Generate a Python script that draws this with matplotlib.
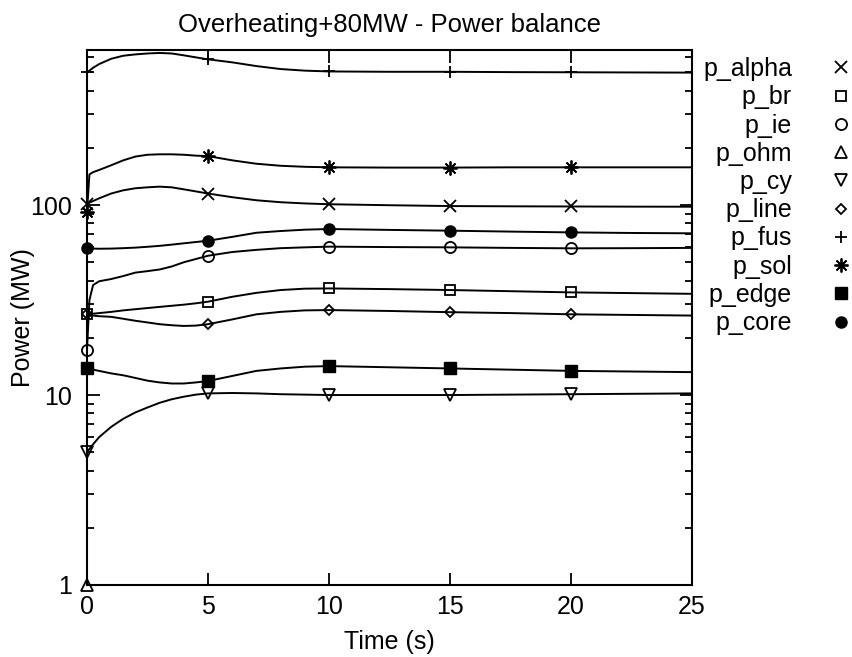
import matplotlib.pyplot as plt
from matplotlib.lines import Line2D
from matplotlib.ticker import NullLocator, NullFormatter

plt.rcParams['font.family'] = ['Liberation Sans', 'DejaVu Sans']
plt.rcParams['font.size'] = 18

# time grid (s) the curves were read at
time = [0, 0.1, 0.25, 0.5, 1, 1.5, 2, 2.5, 3, 3.5, 4, 4.5, 5,
        6, 7, 8, 9, 10, 12.5, 15, 17.5, 20, 22.5, 25]

# powers in MW
p_alpha = [101, 103, 105, 108.5, 115, 119.6, 122.6, 124, 125, 124, 121, 118, 115,
           110, 106, 103.5, 102, 101, 99.8, 98.8, 98.5, 98.3, 98.1, 98]
p_br = [26.6, 26.7, 26.8, 27.0, 27.4, 27.9, 28.3, 28.7, 29.1, 29.5, 29.9, 30.4, 31,
        32.9, 34.5, 35.7, 36.3, 36.4, 36.1, 35.7, 35.2, 34.7, 34.4, 34.1]
p_ie = [17.3, 31.6, 37.9, 39.7, 40.8, 42.3, 44.1, 44.9, 45.8, 47.5, 50, 52, 54.1,
        56.6, 58.1, 59.3, 59.9, 60.4, 60.1, 59.9, 59.5, 59.2, 59.3, 59.5]
p_ohm = [1.0, 0, 0, 0, 0, 0, 0, 0, 0, 0, 0, 0, 0,
         0, 0, 0, 0, 0, 0, 0, 0, 0, 0, 0]
p_cy = [5.03, 5.2, 5.5, 6.0, 6.8, 7.5, 8.1, 8.6, 9.1, 9.5, 9.8, 10.05, 10.2,
        10.25, 10.2, 10.1, 10.05, 10.0, 10.0, 10.0, 10.05, 10.1, 10.15, 10.2]
p_line = [26.6, 26.4, 26.2, 26.0, 25.8, 25.2, 24.6, 24.1, 23.6, 23.3, 23.1, 23.2, 23.6,
          25, 26.6, 27.4, 27.9, 28, 27.7, 27.3, 27.0, 26.6, 26.4, 26.2]
p_fus = [500, 510, 528, 552, 589, 611, 621, 628, 632, 628, 614, 599, 585,
         564, 539, 520, 510, 505, 503, 503, 501, 500, 499, 498]
p_sol = [92, 145, 149, 153, 162, 172, 180, 184, 185, 185, 184, 182, 181,
         172, 165, 161, 159, 158, 157.5, 157.5, 158, 158, 158, 158]
p_edge = [13.8, 13.7, 13.6, 13.4, 13.0, 12.7, 12.3, 11.9, 11.65, 11.5, 11.5, 11.65, 11.85,
          12.6, 13.4, 13.8, 14.1, 14.2, 14.0, 13.8, 13.6, 13.4, 13.3, 13.2]
p_core = [59.2, 59.1, 59, 58.9, 59, 59.3, 59.7, 60.3, 61, 61.9, 62.9, 63.9, 64.9,
          68, 71.5, 73, 74.2, 74.8, 74, 73.3, 72.5, 71.8, 71.3, 71]

marker_times = [0, 5, 10, 15, 20]

series = [
    ("p_alpha", p_alpha, dict(marker='x', ms=8, mew=1.3)),
    ("p_br", p_br, dict(marker='s', ms=7, mfc='none', mew=1.3)),
    ("p_ie", p_ie, dict(marker='o', ms=8, mfc='none', mew=1.3)),
    ("p_ohm", p_ohm, dict(marker='^', ms=8, mfc='none', mew=1.3)),
    ("p_cy", p_cy, dict(marker='v', ms=8, mfc='none', mew=1.3)),
    ("p_line", p_line, dict(marker='D', ms=5.5, mfc='none', mew=1.3)),
    ("p_fus", p_fus, dict(marker='+', ms=9, mew=1.3)),
    ("p_sol", p_sol, dict(marker=(8, 2, 0), ms=10, mew=1.3)),
    ("p_edge", p_edge, dict(marker='s', ms=8)),
    ("p_core", p_core, dict(marker='o', ms=8)),
]

mark_at = [time.index(t) for t in marker_times]

fig = plt.figure(figsize=(8.52, 6.57), dpi=100)
ax = fig.add_axes([87 / 852, 1 - 585 / 657, 605 / 852, 535 / 657])
ax.set_yscale('log', nonpositive='mask')

handles = []
for name, vals, style in series:
    ax.plot(time, vals, color='black', lw=1.4)
    ax.plot(time, vals, ls='none', color='black', markevery=mark_at, clip_on=False, **style)
    handles.append(Line2D([], [], ls='none', color='black', **style))

ax.set_xlim(0, 25)
ax.set_ylim(1, 655)
ax.set_xticks([0, 5, 10, 15, 20, 25])
ax.xaxis.set_minor_locator(NullLocator())
ax.set_yticks([1, 10, 100], ['1', '10', '100'])
ax.yaxis.set_minor_formatter(NullFormatter())
ax.tick_params(which='both', direction='in', top=True, right=True, width=1.3)
ax.tick_params(which='major', length=9, pad=7)
ax.tick_params(which='minor', length=5)
ax.tick_params(axis='y', pad=10.5)
for sp in ax.spines.values():
    sp.set_linewidth(1.5)

ax.set_title("Overheating+80MW - Power balance", fontsize=18.5, pad=13)
ax.set_xlabel("Time (s)", labelpad=8)
ax.set_ylabel("Power (MW)", labelpad=-3)

fig.legend(handles, [s[0] for s in series], loc='upper left',
           bbox_to_anchor=(703 / 852, 1 - 57 / 657), frameon=False,
           markerfirst=False, borderpad=0, borderaxespad=0,
           handlelength=2.3, handletextpad=0.8, labelspacing=0.17)

fig.savefig("out.png", dpi=100)
